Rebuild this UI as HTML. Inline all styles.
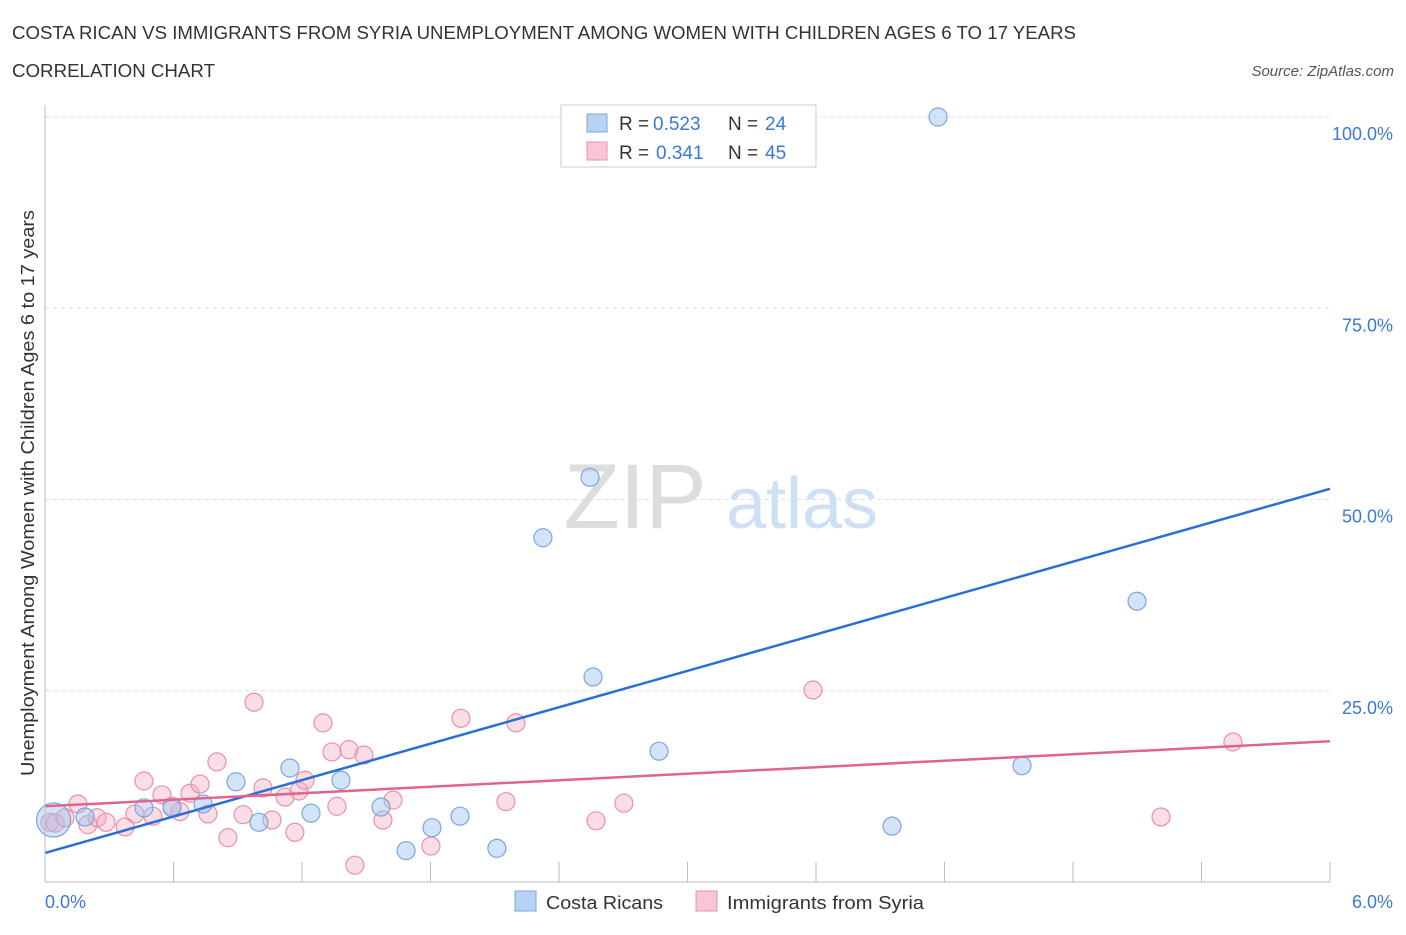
<!DOCTYPE html>
<html><head><meta charset="utf-8"><style>
body{margin:0;background:#fff;font-family:"Liberation Sans",sans-serif;}
svg text{font-family:"Liberation Sans",sans-serif;}
</style></head><body>
<svg width="1406" height="930">
<text x="12" y="39" font-size="18" fill="#333" textLength="1064" lengthAdjust="spacingAndGlyphs">COSTA RICAN VS IMMIGRANTS FROM SYRIA UNEMPLOYMENT AMONG WOMEN WITH CHILDREN AGES 6 TO 17 YEARS</text>
<text x="12" y="77" font-size="18" fill="#333" textLength="203" lengthAdjust="spacingAndGlyphs">CORRELATION CHART</text>
<text x="1394" y="76" font-size="15" fill="#555" font-style="italic" text-anchor="end">Source: ZipAtlas.com</text>
<g id="grid"></g>
<text x="635" y="528" font-size="92" fill="#ddd" font-family="Liberation Serif" text-anchor="middle">ZIP</text>
<text x="802" y="528" font-size="72" fill="#cfe0f4" text-anchor="middle">atlas</text>
<g id="points"></g>
<g id="lines"></g>
<line x1="45" y1="105" x2="45" y2="882" stroke="#bbb"/>
<line x1="45" y1="882" x2="1330" y2="882" stroke="#bbb"/>
<text x="34" y="493" font-size="18" fill="#333" text-anchor="middle" textLength="566" lengthAdjust="spacingAndGlyphs" transform="rotate(-90 34 493)">Unemployment Among Women with Children Ages 6 to 17 years</text>
<text x="45" y="908" font-size="18" fill="#3b78d8">0.0%</text>
<text x="1393" y="908" font-size="18" fill="#3b78d8" text-anchor="end">6.0%</text>
<g>
<rect x="561" y="105" width="255" height="62" fill="#fff" stroke="#ccc"/>
<rect x="587" y="114" width="20" height="18" fill="#b8d2f4" stroke="#7aa6e0"/>
<rect x="587" y="142" width="20" height="18" fill="#f8c6d4" stroke="#e890aa"/>
<text x="619" y="130" font-size="19" fill="#333">R =</text><text x="653" y="130" font-size="19" fill="#3b78d8">0.523</text>
<text x="728" y="130" font-size="19" fill="#333">N =</text><text x="765" y="130" font-size="19" fill="#3b78d8">24</text>
<text x="619" y="159" font-size="19" fill="#333">R =</text><text x="656" y="159" font-size="19" fill="#3b78d8">0.341</text>
<text x="728" y="159" font-size="19" fill="#333">N =</text><text x="765" y="159" font-size="19" fill="#3b78d8">45</text>
</g>
<g>
<rect x="515" y="891" width="21" height="20" fill="#b8d2f4" stroke="#7aa6e0"/>
<text x="546" y="909" font-size="18" fill="#333" textLength="117" lengthAdjust="spacingAndGlyphs">Costa Ricans</text>
<rect x="696" y="891" width="21" height="20" fill="#f8c6d4" stroke="#e890aa"/>
<text x="727" y="909" font-size="18" fill="#333" textLength="197" lengthAdjust="spacingAndGlyphs">Immigrants from Syria</text>
</g>
</svg>
<script>
const blueX=[0.187,0.462,0.593,0.738,0.892,0.999,1.144,1.242,1.382,1.569,1.686,1.807,1.938,2.11,2.325,2.545,2.559,2.867,3.955,4.17,4.562,5.099,0.04];
const blueY=[8.5,9.7,9.7,10.2,13.1,7.8,14.9,9.0,13.3,9.8,4.1,7.1,8.6,4.4,45.0,52.9,26.8,17.1,7.3,100,15.2,36.7,8.1];
const pinkX=[0.023,0.047,0.093,0.154,0.2,0.243,0.285,0.374,0.42,0.462,0.504,0.546,0.593,0.63,0.677,0.724,0.761,0.803,0.854,0.925,0.976,1.018,1.06,1.121,1.167,1.186,1.214,1.298,1.34,1.363,1.419,1.447,1.489,1.578,1.625,1.802,1.942,2.152,2.199,2.573,2.703,3.586,5.211,5.547];
const pinkY=[7.8,7.7,8.4,10.2,7.5,8.4,7.8,7.2,8.9,13.2,8.6,11.4,9.9,9.2,11.6,12.8,8.9,15.7,5.8,8.8,23.5,12.3,8.1,11.1,6.5,11.9,13.3,20.8,17.0,9.9,17.3,2.2,16.6,8.1,10.7,4.7,21.4,10.5,20.8,8.0,10.3,25.1,8.5,18.3];
const yTicks=[25,50,75,100];
const xTicks=[0,0.6,1.2,1.8,2.4,3,3.6,4.2,4.8,5.4,6];
const blueTrend=[3.8,51.4];
const pinkTrend=[9.9,18.4];
const NS="http://www.w3.org/2000/svg";
const sx=v=>45+v/6*1285, sy=v=>882-v*7.65;
function mk(t,a,p){const e=document.createElementNS(NS,t);for(const k in a)e.setAttribute(k,a[k]);p.appendChild(e);return e;}
const grid=document.getElementById('grid');
yTicks.forEach(t=>{
 const l=mk('line',{x1:45,x2:1330,y1:sy(t),y2:sy(t),stroke:'#ddd','stroke-dasharray':'4,4'},grid);
 
 
 const tx=mk('text',{x:1393,y:sy(t)+23,'font-size':18,fill:'#3b78d8','text-anchor':'end'},grid);
 tx.textContent=t.toFixed(1)+'%';
 
 
});
xTicks.forEach(t=>{
 const l=mk('line',{x1:sx(t),x2:sx(t),y1:862,y2:882,stroke:'#bbb'},grid);
 
 
});
const pts=document.getElementById('points');
pinkX.forEach((x,i)=>{
 const c=mk('circle',{cx:sx(x),cy:sy(pinkY[i]),r:9,fill:'rgba(244,170,192,0.4)',stroke:'#e890aa','stroke-width':1.2},pts);
 
 
});
blueX.forEach((x,i)=>{
 const big=i===blueX.length-1;
 const c=mk('circle',{cx:sx(x),cy:sy(blueY[i]),r:big?17:9,fill:'rgba(160,195,240,0.45)',stroke:'#7aa6e0','stroke-width':1.2},pts);
 
 
});
const ln=document.getElementById('lines');
const b=mk('line',{x1:sx(0),y1:sy(blueTrend[0]),x2:sx(6),y2:sy(blueTrend[1]),stroke:'#2a6fd6','stroke-width':2.5},ln);


const p=mk('line',{x1:sx(0),y1:sy(pinkTrend[0]),x2:sx(6),y2:sy(pinkTrend[1]),stroke:'#e0648e','stroke-width':2.5},ln);


</script>
</body></html>
